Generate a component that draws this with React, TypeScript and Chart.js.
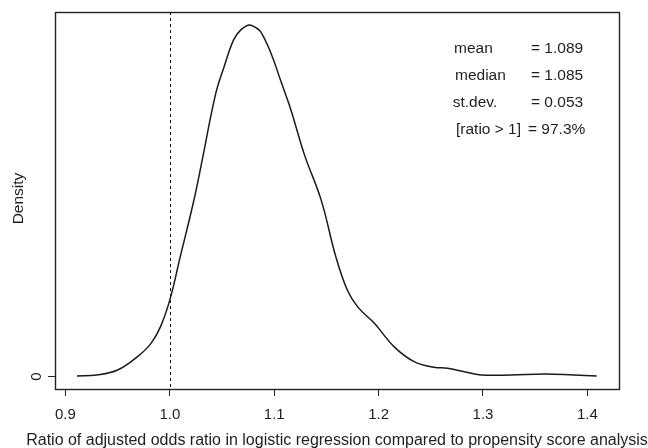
import React, { useEffect, useRef } from "react";
import { Chart, registerables } from "chart.js";

Chart.register(...registerables);

const xValues = [0.911, 0.930, 0.950, 0.969, 0.982, 0.991, 1.000, 1.010, 1.023, 1.031, 1.044, 1.052, 1.061, 1.068, 1.076, 1.082, 1.087, 1.097, 1.106, 1.116, 1.129, 1.145, 1.159, 1.170, 1.180, 1.196, 1.215, 1.234, 1.253, 1.266, 1.282, 1.298, 1.327, 1.359, 1.387, 1.409];
const densityValues = [0, 0.003, 0.017, 0.055, 0.093, 0.14, 0.217, 0.34, 0.50, 0.615, 0.805, 0.881, 0.957, 0.986, 1.0, 0.993, 0.981, 0.919, 0.843, 0.758, 0.63, 0.501, 0.34, 0.245, 0.197, 0.15, 0.083, 0.041, 0.025, 0.022, 0.012, 0.003, 0.003, 0.006, 0.003, 0];
const xTicks = [0.9, 1.0, 1.1, 1.2, 1.3, 1.4];
const yTicks = [0];
const refLine = 1.0;
const statLabels = ["mean", "median", "st.dev.", "[ratio > 1]"];
const statValues = ["= 1.089", "= 1.085", "= 0.053", "= 97.3%"];
const xTitle = "Ratio of adjusted odds ratio in logistic regression compared to propensity score analysis";
const yTitle = "Density";

const FONT = "'Liberation Sans', Arial, Helvetica, sans-serif";

export default function App() {
  const ref = useRef<HTMLCanvasElement>(null);
  useEffect(() => {
    document.body.style.margin = "0";
    const canvas = ref.current!;
    const overlay = {
      id: "overlay",
      beforeDatasetsDraw(chart: any) {
        const { ctx, chartArea: a, scales } = chart;
        const xs = scales.x;
        ctx.save();
        const px = Math.round(xs.getPixelForValue(refLine)) + 0.5;
        ctx.strokeStyle = "#111";
        ctx.lineWidth = 1;
        ctx.setLineDash([3, 3]);
        ctx.beginPath();
        ctx.moveTo(px, a.top);
        ctx.lineTo(px, a.bottom);
        ctx.stroke();
        ctx.restore();
      },
      afterDraw(chart: any) {
        const { ctx, chartArea: a, scales } = chart;
        const ys = scales.y;
        ctx.save();
        ctx.strokeStyle = "#222";
        ctx.lineWidth = 1.4;
        ctx.strokeRect(Math.round(a.left) + 0.5, Math.round(a.top) + 0.5, Math.round(a.right - a.left), Math.round(a.bottom - a.top));
        ctx.fillStyle = "#1e1e1e";
        ctx.font = `15px ${FONT}`;
        ctx.textAlign = "center";
        ctx.textBaseline = "middle";
        yTicks.forEach((t) => {
          const py = Math.round(ys.getPixelForValue(t)) + 0.5;
          ctx.lineWidth = 1;
          ctx.beginPath();
          ctx.moveTo(a.left - 7, py);
          ctx.lineTo(a.left, py);
          ctx.stroke();
          ctx.save();
          ctx.translate(a.left - 19, py);
          ctx.rotate(-Math.PI / 2);
          ctx.fillText(String(t), 0, 1);
          ctx.restore();
        });
        ctx.save();
        ctx.font = `15.5px ${FONT}`;
        ctx.translate(18.5, (a.top + a.bottom) / 2 - 2);
        ctx.rotate(-Math.PI / 2);
        ctx.fillText(yTitle, 0, 0);
        ctx.restore();
        ctx.save();
        ctx.font = `16px ${FONT}`;
        const w = ctx.measureText(xTitle).width;
        const sx = Math.min(1, 622 / w);
        ctx.translate((a.left + a.right) / 2, 441);
        ctx.scale(sx, 1);
        ctx.fillText(xTitle, 0, 0);
        ctx.restore();
        ctx.font = `15.5px ${FONT}`;
        ctx.textAlign = "left";
        const rowsY = [48.5, 75.5, 102.5, 130];
        const labX = [454, 455, 452.7, 456];
        const valX = [531, 531, 531, 528];
        statLabels.forEach((s, i) => {
          ctx.fillText(s, labX[i], rowsY[i]);
          ctx.fillText(statValues[i], valX[i], rowsY[i]);
        });
        ctx.restore();
      },
    };
    const chart = new Chart(canvas, {
      type: "line",
      data: {
        datasets: [
          {
            data: xValues.map((x, i) => ({ x, y: densityValues[i] })),
            borderColor: "#1a1a1a",
            borderWidth: 1.5,
            pointRadius: 0,
            fill: false,
            tension: 0.4,
          },
        ],
      },
      options: {
        animation: false,
        responsive: false,
        devicePixelRatio: 1,
        layout: { padding: { left: 55, right: 29, top: 12, bottom: 0 } },
        plugins: { legend: { display: false }, tooltip: { enabled: false }, title: { display: false } },
        scales: {
          x: {
            type: "linear",
            min: 0.89,
            max: 1.4303,
            afterBuildTicks: (s: any) => {
              s.ticks = xTicks.map((v) => ({ value: v }));
            },
            afterFit: (s: any) => {
              s.height = 59;
            },
            grid: { drawOnChartArea: false, drawTicks: true, tickLength: 7, color: "#222", lineWidth: 1 },
            border: { display: false },
            ticks: {
              autoSkip: false,
              maxRotation: 0,
              padding: 10,
              color: "#1e1e1e",
              font: { family: FONT, size: 15 },
              callback: (v: any) => Number(v).toFixed(1),
            },
          },
          y: {
            type: "linear",
            min: -0.037,
            max: 1.037,
            display: false,
          },
        },
      },
      plugins: [overlay],
    });
    return () => chart.destroy();
  }, []);
  return (
    <div style={{ width: 648, height: 448, background: "#fff" }}>
      <canvas ref={ref} width={648} height={448} style={{ display: "block" }} />
    </div>
  );
}
